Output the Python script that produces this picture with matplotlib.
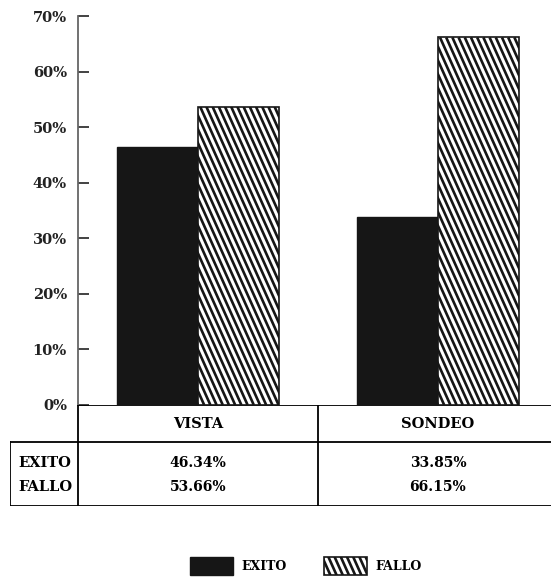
import matplotlib.pyplot as plt
from matplotlib.patches import Patch
from matplotlib.lines import Line2D

categories = ['VISTA', 'SONDEO']
series = ['EXITO', 'FALLO']
exito = [46.34, 33.85]
fallo = [53.66, 66.15]
yticks = [0, 10, 20, 30, 40, 50, 60, 70]

W, H = 551, 579
ink = '#161616'


def bold(size):
    return dict(family='DejaVu Serif', weight='bold', size=size)


fig = plt.figure(figsize=(W / 100, H / 100), dpi=100)


def box(x0, y0, x1, y1):
    # pixel box (top-left origin) -> figure fraction rect
    return [x0 / W, 1 - y1 / H, (x1 - x0) / W, (y1 - y0) / H]


def steep_hatch(patch, step=6.2, lean=0.45, lw=1.9):
    # steep "\" stripes clipped to a patch, drawn in display pixels
    bb = patch.get_window_extent()
    h = bb.height
    x = bb.x0 - h * lean
    while x < bb.x1 + step:
        ln = Line2D([x, x + h * lean], [bb.y1, bb.y0], color=ink, lw=lw,
                    transform=None, solid_capstyle='butt', zorder=10)
        ln.set_clip_path(patch)
        fig.add_artist(ln)
        x += step


# bar area
ax = fig.add_axes(box(78, 16, 558, 405))
n = len(categories)
width = 0.3375
xs = list(range(n))
ax.bar([x - width / 2 for x in xs], exito, width, color=ink, edgecolor=ink)
fbars = ax.bar([x + width / 2 for x in xs], fallo, width, color='white',
               edgecolor=ink, linewidth=1.2)
ax.set_xlim(-0.5, n - 0.5)
ax.set_ylim(0, 70)
ax.set_yticks(yticks)
ax.set_yticklabels(['%d%%' % t for t in yticks], fontdict=bold(10.5))
ax.tick_params(axis='y', direction='in', length=8, width=1.2, pad=8, colors='#222222')
ax.set_xticks([])
for s in ('top', 'right', 'bottom'):
    ax.spines[s].set_visible(False)
ax.spines['left'].set_color('#666666')
ax.spines['left'].set_linewidth(1.3)

# data table under the bars
tab = fig.add_axes(box(10, 405, 558, 506))
label_w, col_w = 68, 240
head_h, body_h = 37, 64
total_w = label_w + n * col_w
tab.set_xlim(0, total_w)
tab.set_ylim(head_h + body_h, 0)
tab.axis('off')
lw = 1.3
tab.plot([label_w, total_w], [0, 0], color='black', lw=lw)
tab.plot([0, total_w], [head_h, head_h], color='black', lw=lw)
tab.plot([0, total_w], [head_h + body_h] * 2, color='black', lw=lw)
tab.plot([0, 0], [head_h, head_h + body_h], color='black', lw=lw)
for i in range(n + 1):
    x = label_w + i * col_w
    tab.plot([x, x], [0, head_h + body_h], color='black', lw=lw)
for i, cat in enumerate(categories):
    cx = label_w + (i + 0.5) * col_w
    tab.text(cx, head_h / 2, cat, ha='center', va='center', fontdict=bold(10.5))
    for j, vals in enumerate([exito, fallo]):
        cy = head_h + 21 + j * 24
        tab.text(cx, cy, '%.2f%%' % vals[i], ha='center', va='center', fontdict=bold(10))
for j, name in enumerate(series):
    tab.text(label_w / 2 + 1, head_h + 21 + j * 24, name, ha='center', va='center',
             fontdict=bold(10.5))

handles = [Patch(facecolor=ink, edgecolor=ink),
           Patch(facecolor='white', edgecolor=ink, linewidth=1.2)]
leg = fig.legend(handles, series, loc='center', bbox_to_anchor=(306 / W, 1 - 566 / H),
                 ncol=2, frameon=False, prop=bold(9),
                 handlelength=3.4, handleheight=1.9, handletextpad=0.7, columnspacing=3.0)

fig.canvas.draw()
for p in fbars:
    steep_hatch(p)
steep_hatch(leg.get_patches()[1])

fig.savefig('out.png', dpi=100)
